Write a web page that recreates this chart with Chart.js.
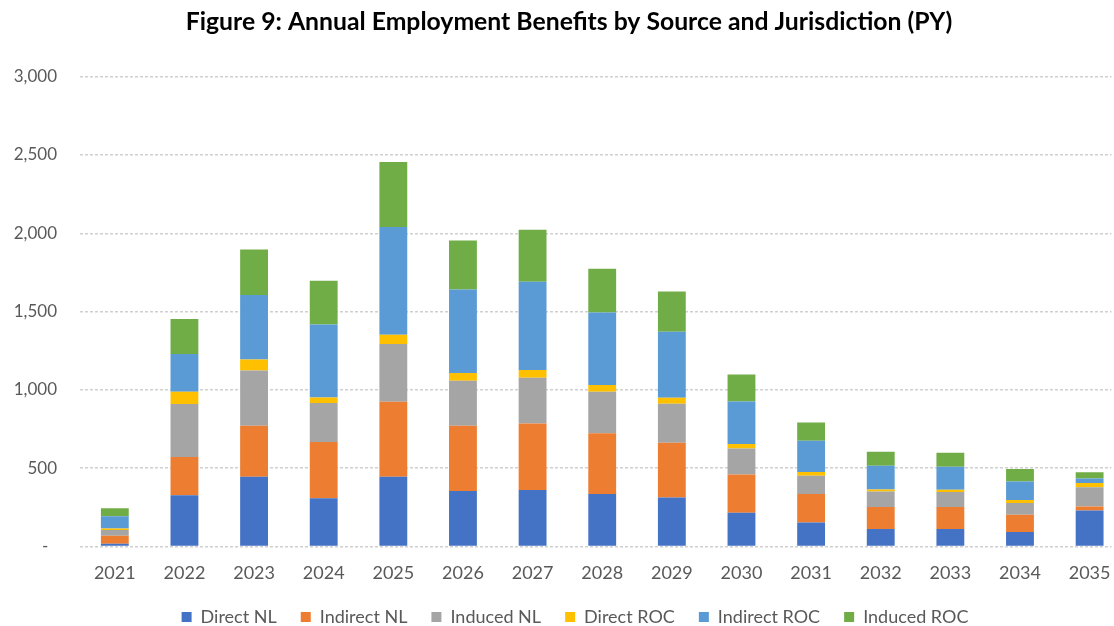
<!DOCTYPE html>
<html>
<head>
<meta charset="utf-8">
<script src="https://cdn.jsdelivr.net/npm/chart.js@4.4.1/dist/chart.umd.min.js"></script>
<style>
  body { margin: 0; background: #fff; }
</style>
</head>
<body>
<canvas id="benefitsChart" width="1114" height="626"></canvas>
<script>
const years = ["2021", "2022", "2023", "2024", "2025", "2026", "2027", "2028", "2029", "2030", "2031", "2032", "2033", "2034", "2035"];

// person-years
const directNL = [17, 326, 445, 307, 445, 354, 360, 335, 313, 215, 153, 111, 111, 92, 230];
const indirectNL = [51, 245, 326, 360, 479, 417, 425, 387, 349, 245, 182, 141, 141, 110, 25];
const inducedNL = [37, 338, 353, 249, 368, 287, 292, 266, 249, 166, 116, 99, 95, 75, 122];
const directROC = [10, 79, 70, 35, 60, 49, 49, 43, 39, 28, 24, 13, 15, 19, 28];
const indirectROC = [77, 241, 411, 467, 688, 534, 564, 463, 421, 272, 200, 151, 147, 119, 29];
const inducedROC = [51, 223, 292, 279, 415, 313, 332, 279, 257, 172, 117, 90, 89, 79, 39];

const yTicks = [0, 500, 1000, 1500, 2000, 2500, 3000];

const fontFamily = "Lato, 'Open Sans', sans-serif";
const grey = "#595959";

const series = [
  { label: "Direct NL", data: directNL, color: "#4472C4" },
  { label: "Indirect NL", data: indirectNL, color: "#ED7D31" },
  { label: "Induced NL", data: inducedNL, color: "#A5A5A5" },
  { label: "Direct ROC", data: directROC, color: "#FFC000" },
  { label: "Indirect ROC", data: indirectROC, color: "#5B9BD5" },
  { label: "Induced ROC", data: inducedROC, color: "#70AD47" }
];

// keep the wide legend spacing but don't reserve the padding below it,
// nudge title/legend right like the original, and let the category axis
// run a little past the right edge (the source image is cropped there)
const layoutTweaks = {
  id: "layoutTweaks",
  beforeInit(chart) {
    const legend = chart.legend;
    const fit = legend.fit;
    legend.fit = function () {
      fit.call(this);
      this.height = 26;
    };
  },
  afterLayout(chart) {
    const legend = chart.legend;
    legend.top -= 16;
    legend.left += 38;
    chart.titleBlock.left += 26;

    const x = chart.scales.x;
    x.right += 13;
    x.width += 13;
    x.configure();
  }
};

new Chart(document.getElementById("benefitsChart"), {
  type: "bar",
  data: {
    labels: years,
    datasets: series.map(s => ({
      label: s.label,
      data: s.data,
      backgroundColor: s.color,
      borderWidth: 0,
      barPercentage: 0.8,
      categoryPercentage: 0.5
    }))
  },
  plugins: [layoutTweaks],
  options: {
    responsive: false,
    devicePixelRatio: 1,
    animation: false,
    layout: { padding: { left: 0, right: 2, top: 0, bottom: 0 } },
    plugins: {
      title: {
        display: true,
        text: "Figure 9: Annual Employment Benefits by Source and Jurisdiction (PY)",
        color: "#000",
        font: { family: fontFamily, size: 24.75, weight: "bold" },
        padding: { top: 7, bottom: 40 }
      },
      legend: {
        position: "bottom",
        labels: {
          boxWidth: 10,
          boxHeight: 10,
          padding: 24,
          color: grey,
          font: { family: fontFamily, size: 18 }
        }
      },
      tooltip: { enabled: false }
    },
    scales: {
      x: {
        stacked: true,
        grid: { display: false, drawTicks: false },
        border: { display: false },
        ticks: {
          color: grey,
          padding: 16,
          font: { family: fontFamily, size: 18 }
        }
      },
      y: {
        stacked: true,
        min: 0,
        max: 3000,
        afterBuildTicks: scale => {
          scale.ticks = yTicks.map(v => ({ value: v }));
        },
        afterFit: scale => {
          scale.width = 80;
        },
        grid: {
          color: "#d0d0d0",
          lineWidth: 1.5,
          drawTicks: false
        },
        border: { display: false, dash: [3, 2] },
        ticks: {
          color: grey,
          padding: 23,
          font: { family: fontFamily, size: 17 },
          // accounting-style zero
          callback: v => (v === 0 ? "-  " : v.toLocaleString("en-US"))
        }
      }
    }
  }
});
</script>
</body>
</html>
